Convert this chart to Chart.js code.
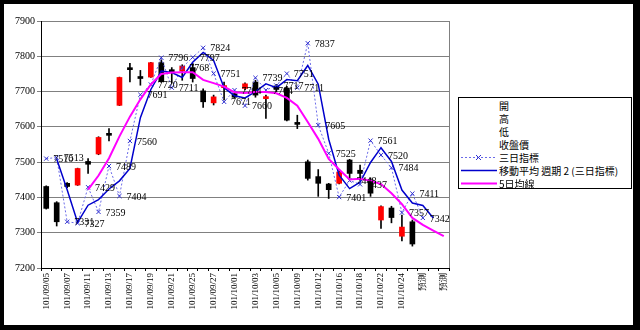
<!DOCTYPE html>
<html lang="zh-Hant">
<head>
<meta charset="UTF-8">
<title>K線 三日指標</title>
<script src="https://cdn.jsdelivr.net/npm/chart.js"></script>
<style>
  html, body { margin: 0; padding: 0; background: #000; }
  #frame { position: absolute; left: 4px; top: 4px; width: 629px; height: 321px; background: #fff; }
  #chart { position: absolute; left: 0; top: 0; }
  #legend {
    position: absolute; left: 458px; top: 97px; width: 174px; height: 92px;
    border: 1px solid #000; background: #fff; box-sizing: border-box;
    font-family: "Noto Sans CJK TC", sans-serif; font-size: 10px; color: #000;
    padding-top: 1px;
  }
  #legend .row { height: 13px; line-height: 13px; white-space: nowrap; }
  #legend svg { display: inline-block; vertical-align: top; width: 36px; height: 13px; margin-left: 2px; margin-right: 2px; }
</style>
</head>
<body>
<div id="frame"></div>
<canvas id="chart" width="640" height="330"></canvas>
<div id="legend">
  <div class="row"><svg></svg>開</div>
  <div class="row"><svg></svg>高</div>
  <div class="row"><svg></svg>低</div>
  <div class="row"><svg></svg>收盤價</div>
  <div class="row"><svg><line x1="0" y1="6.5" x2="36" y2="6.5" stroke="#6a6ae8" stroke-width="1" stroke-dasharray="2,2"/><path d="M15 4 L20 9 M20 4 L15 9" stroke="#3030d0" stroke-width="1"/></svg>三日指標</div>
  <div class="row"><svg><line x1="0" y1="6.5" x2="36" y2="6.5" stroke="#0000cc" stroke-width="1.5"/></svg>移動平均 週期 2 (三日指標)</div>
  <div class="row"><svg><line x1="0" y1="6.5" x2="36" y2="6.5" stroke="#ff00ff" stroke-width="2"/></svg>5日均線</div>
</div>

<script>
// trading days (民國年) + forecast slots
const labels = ['101/09/05','101/09/06','101/09/07','101/09/10','101/09/11','101/09/12','101/09/13','101/09/14',
  '101/09/17','101/09/18','101/09/19','101/09/20','101/09/21','101/09/24','101/09/25','101/09/26','101/09/27','101/09/28',
  '101/10/01','101/10/02','101/10/03','101/10/04','101/10/05','101/10/08','101/10/09','101/10/11','101/10/12',
  '101/10/15','101/10/16','101/10/17','101/10/18','101/10/19','101/10/22','101/10/23','101/10/24','101/10/25',
  '預測','預測','預測'];

const openP  = [7431,7385,7440,7435,7502,7523,7581,7661,7767,7742,7741,7782,7762,7758,7768,7702,7668,7711,
  7694,7709,7727,7680,7716,7710,7612,7501,7459,7438,7440,7506,7477,7450,7336,7370,7290,7331,null,null,null];
const highP  = [7433,7388,7442,7483,7510,7572,7595,7741,7780,7760,7783,7790,7768,7776,7780,7708,7690,7727,
  7696,7725,7732,7690,7720,7715,7633,7506,7479,7440,7476,7508,7492,7455,7376,7375,7350,7336,null,null,null];
const lowP   = [7367,7319,7428,7434,7468,7521,7560,7660,7727,7718,7740,7726,7724,7732,7727,7655,7662,7676,
  7682,7705,7684,7624,7700,7617,7595,7449,7403,7397,7438,7451,7454,7403,7312,7328,7277,7262,null,null,null];
const closeP = [7369,7331,7431,7482,7494,7570,7576,7740,7762,7737,7782,7728,7756,7772,7737,7671,7685,7717,
  7684,7722,7690,7685,7706,7619,7607,7454,7440,7422,7472,7468,7468,7412,7374,7343,7316,7268,null,null,null];

// 三日指標
const sanri = [7510,7513,7331,7327,7429,7359,7489,7404,7560,7691,7720,7796,7711,7768,7797,7824,7751,7671,
  7704,7660,7739,7704,7717,7751,7711,7837,7605,7525,7401,7448,7437,7561,7520,7484,7357,7411,7342,null,null];
// 移動平均 週期 2 (三日指標)
const sanriMA = [null,7509,7422,7329,7378,7394,7424,7447,7482,7626,7706,7758,7754,7740,7783,7811,7788,7711,
  7688,7682,7700,7722,7711,7734,7731,7774,7721,7565,7463,7425,7443,7499,7541,7502,7421,7384,7377,7342,null];
// 5日均線
const ma5 = [null,null,null,null,7422,7462,7511,7573,7629,7678,7720,7750,7754,7755,7755,7733,7724,7714,
  7698,7696,7699,7699,7695,7682,7660,7614,7566,7509,7479,7451,7453,7447,7438,7412,7381,7342,7322,7306,7290];

const yTicks = [7200, 7300, 7400, 7500, 7600, 7700, 7800, 7900];

const wicks = labels.map((_, i) => highP[i] == null ? null : [lowP[i], highP[i]]);
const bodies = labels.map((_, i) => openP[i] == null ? null : [openP[i], closeP[i]]);
const bodyColors = labels.map((_, i) => closeP[i] > openP[i] ? '#ff0000' : '#000000');

const extras = {
  id: 'extras',
  afterDatasetsDraw(chart) {
    const ctx = chart.ctx, a = chart.chartArea;
    ctx.save();
    // right edge of plot area
    ctx.strokeStyle = '#808080';
    ctx.lineWidth = 1;
    ctx.beginPath();
    ctx.moveTo(Math.round(a.right) + 0.5, a.top);
    ctx.lineTo(Math.round(a.right) + 0.5, a.bottom);
    ctx.stroke();
    // value labels on 三日指標
    const meta = chart.getDatasetMeta(2);
    ctx.font = '10px "Liberation Serif"';
    ctx.fillStyle = '#000';
    ctx.textBaseline = 'middle';
    meta.data.forEach((pt, i) => {
      if (sanri[i] != null) ctx.fillText(String(sanri[i]), pt.x + 7, pt.y + 1);
    });
    ctx.restore();
  }
};

new Chart(document.getElementById('chart'), {
  type: 'bar',
  data: {
    labels: labels,
    datasets: [
      { label: '高低', data: wicks, backgroundColor: '#000', barThickness: 1, grouped: false, order: 6 },
      { label: '開收', data: bodies, backgroundColor: bodyColors, barThickness: 5, minBarLength: 2, grouped: false, order: 5 },
      { type: 'line', label: '三日指標', data: sanri, borderColor: '#6a6ae8', borderWidth: 1, borderDash: [2, 2],
        pointStyle: 'crossRot', pointRadius: 3, pointBorderColor: '#3030d0', pointBorderWidth: 1, tension: 0, order: 3 },
      { type: 'line', label: '移動平均 週期 2 (三日指標)', data: sanriMA, borderColor: '#0000cc', borderWidth: 1.5,
        pointRadius: 0, tension: 0, order: 2 },
      { type: 'line', label: '5日均線', data: ma5, borderColor: '#ff00ff', borderWidth: 2,
        pointRadius: 0, tension: 0, order: 1 }
    ]
  },
  options: {
    responsive: false,
    animation: false,
    layout: { padding: { left: 0, right: 191, top: 21, bottom: 0 } },
    plugins: { legend: { display: false }, tooltip: { enabled: false } },
    scales: {
      x: {
        offset: true,
        afterFit: (s) => { s.height = 62; },
        grid: { offset: true, drawOnChartArea: false, drawTicks: true, tickLength: 3, color: '#000' },
        border: { color: '#000' },
        ticks: {
          autoSkip: false, minRotation: 90, maxRotation: 90, padding: 2, color: '#000',
          font: { family: 'Liberation Serif', size: 9 },
          callback: (v, i) => i % 2 === 0 ? labels[i] : ''
        }
      },
      y: {
        min: yTicks[0], max: yTicks[yTicks.length - 1],
        afterFit: (s) => { s.width = 41; },
        afterBuildTicks: (s) => { s.ticks = yTicks.map(v => ({ value: v })); },
        grid: { color: '#808080', tickLength: 4 },
        border: { color: '#000' },
        ticks: { color: '#000', padding: 2, font: { family: 'Liberation Serif', size: 10 },
          callback: (v) => String(v) }
      }
    }
  },
  plugins: [extras]
});
</script>
</body>
</html>
